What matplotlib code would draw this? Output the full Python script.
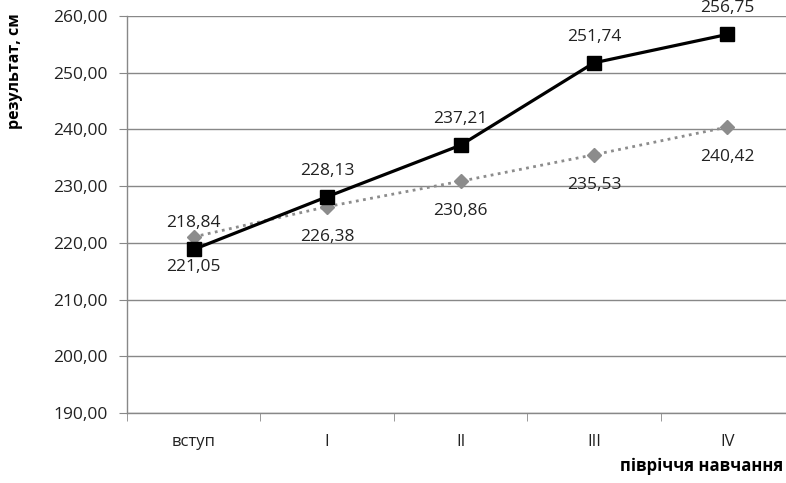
import matplotlib
matplotlib.use("Agg")
import matplotlib.pyplot as plt

plt.rcParams['font.family'] = ['Open Sans', 'DejaVu Sans']

categories = ['вступ', 'I', 'II', 'III', 'IV']
main_group = [218.84, 228.13, 237.21, 251.74, 256.75]
control_group = [221.05, 226.38, 230.86, 235.53, 240.42]
y_ticks = [190, 200, 210, 220, 230, 240, 250, 260]


def fmt(v):
    return ('%.2f' % v).replace('.', ',')


fig = plt.figure(figsize=(7.86, 4.83), dpi=100)
# plot area runs a little past the right edge of the figure
ax = fig.add_axes([0.1616, 0.1449, 0.8486, 0.822])

x = list(range(len(categories)))
grid_col = '#888888'
txt_col = '#222222'

ax.plot(x, control_group, color='#8c8c8c', linestyle=(0, (1, 1.6)), linewidth=2.0,
        marker='D', markersize=7.5, zorder=3)
ax.plot(x, main_group, color='black', linewidth=2.3,
        marker='s', markersize=10, zorder=4)

for xi, v in zip(x, main_group):
    ax.annotate(fmt(v), (xi, v), xytext=(0, 13), textcoords='offset points',
                ha='center', va='bottom', fontsize=12.5, color=txt_col)
for xi, v in zip(x, control_group):
    ax.annotate(fmt(v), (xi, v), xytext=(0, -16), textcoords='offset points',
                ha='center', va='top', fontsize=12.5, color=txt_col)

ax.set_xlim(-0.5, 4.5)
ax.set_ylim(190, 260)
ax.set_yticks(y_ticks)
ax.set_yticklabels([fmt(t) for t in y_ticks], fontsize=12.5, color=txt_col)
ax.yaxis.grid(True, color=grid_col, linewidth=1.0)
ax.set_axisbelow(True)

ax.set_xticks(x)
ax.set_xticklabels(categories, fontsize=12, color=txt_col)
ax.set_xticks([i - 0.5 for i in range(len(categories) + 1)], minor=True)
ax.tick_params(axis='x', which='major', length=0, pad=15)
ax.tick_params(axis='x', which='minor', length=6, color=grid_col, direction='out')
ax.tick_params(axis='y', length=6, color=grid_col, direction='out', pad=8)

for side in ('top', 'right'):
    ax.spines[side].set_visible(False)
for side in ('left', 'bottom'):
    ax.spines[side].set_color(grid_col)
    ax.spines[side].set_linewidth(1.0)

fig.text(0.019, 0.853, 'результат, см', rotation=90, ha='center', va='center',
         fontsize=11.5, fontweight='bold')
fig.text(0.789, 0.035, 'півріччя навчання', ha='left', va='center',
         fontsize=12, fontweight='bold')

fig.savefig('out.png', dpi=100)
